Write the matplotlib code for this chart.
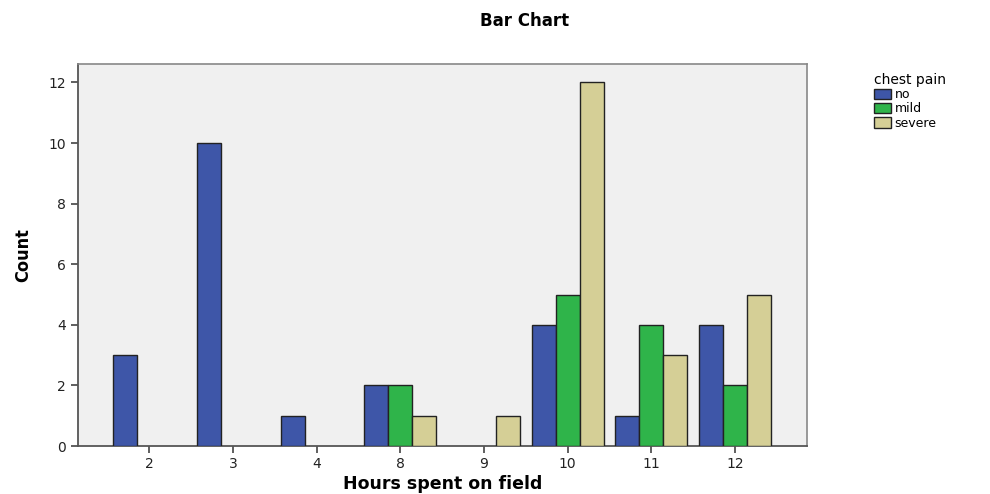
import numpy as np
import matplotlib.pyplot as plt
from matplotlib.patches import Patch

hours = ['2', '3', '4', '8', '9', '10', '11', '12']
no = [3, 10, 1, 2, 0, 4, 1, 4]
mild = [0, 0, 0, 2, 0, 5, 4, 2]
severe = [0, 0, 0, 1, 1, 12, 3, 5]
series = ['no', 'mild', 'severe']
colors = ['#3e56a8', '#2fb44a', '#d5cf96']

fig = plt.figure(figsize=(9.9, 4.94), dpi=100)
ax = fig.add_axes([0.0788, 0.097, 0.7364, 0.773])
ax.set_facecolor('#f0f0f0')

x = np.arange(len(hours))
w = 0.287
for i, vals in enumerate([no, mild, severe]):
    v = np.array(vals)
    m = v > 0
    ax.bar(x[m] + (i - 1) * w, v[m], width=w, color=colors[i],
           edgecolor='#222222', linewidth=1.0, zorder=3)

ax.set_xlim(-0.85, 7.86)
ax.set_ylim(0, 12.6)
ax.set_xticks(x)
ax.set_xticklabels(hours)
ax.set_yticks(range(0, 13, 2))
ax.tick_params(axis='both', direction='out', length=5, width=1.2,
               colors='#444444', labelsize=10, labelcolor='#222222')
ax.tick_params(axis='x', pad=3)
for s in ['left', 'bottom']:
    ax.spines[s].set_color('#555555')
    ax.spines[s].set_linewidth(1.3)
for s in ['top', 'right']:
    ax.spines[s].set_color('#888888')
    ax.spines[s].set_linewidth(1.2)

ax.set_xlabel('Hours spent on field', fontsize=12.5, fontweight='bold', labelpad=3)
ax.set_ylabel('Count', fontsize=13, fontweight='bold', fontstretch='condensed',
              family='Liberation Sans Narrow', labelpad=12)
fig.text(0.53, 0.958, 'Bar Chart', ha='center', va='center', fontsize=12,
         fontweight='bold')

handles = [Patch(facecolor=c, edgecolor='#222222', label=l) for c, l in zip(colors, series)]
leg = fig.legend(handles=handles, title='chest pain', loc='upper left',
                 bbox_to_anchor=(0.877, 0.865), frameon=False, fontsize=9,
                 title_fontsize=10, handlelength=1.3, handleheight=0.9,
                 handletextpad=0.3, labelspacing=0.1, borderpad=0)
leg._legend_box.align = 'left'

plt.savefig('out.png', dpi=100)
